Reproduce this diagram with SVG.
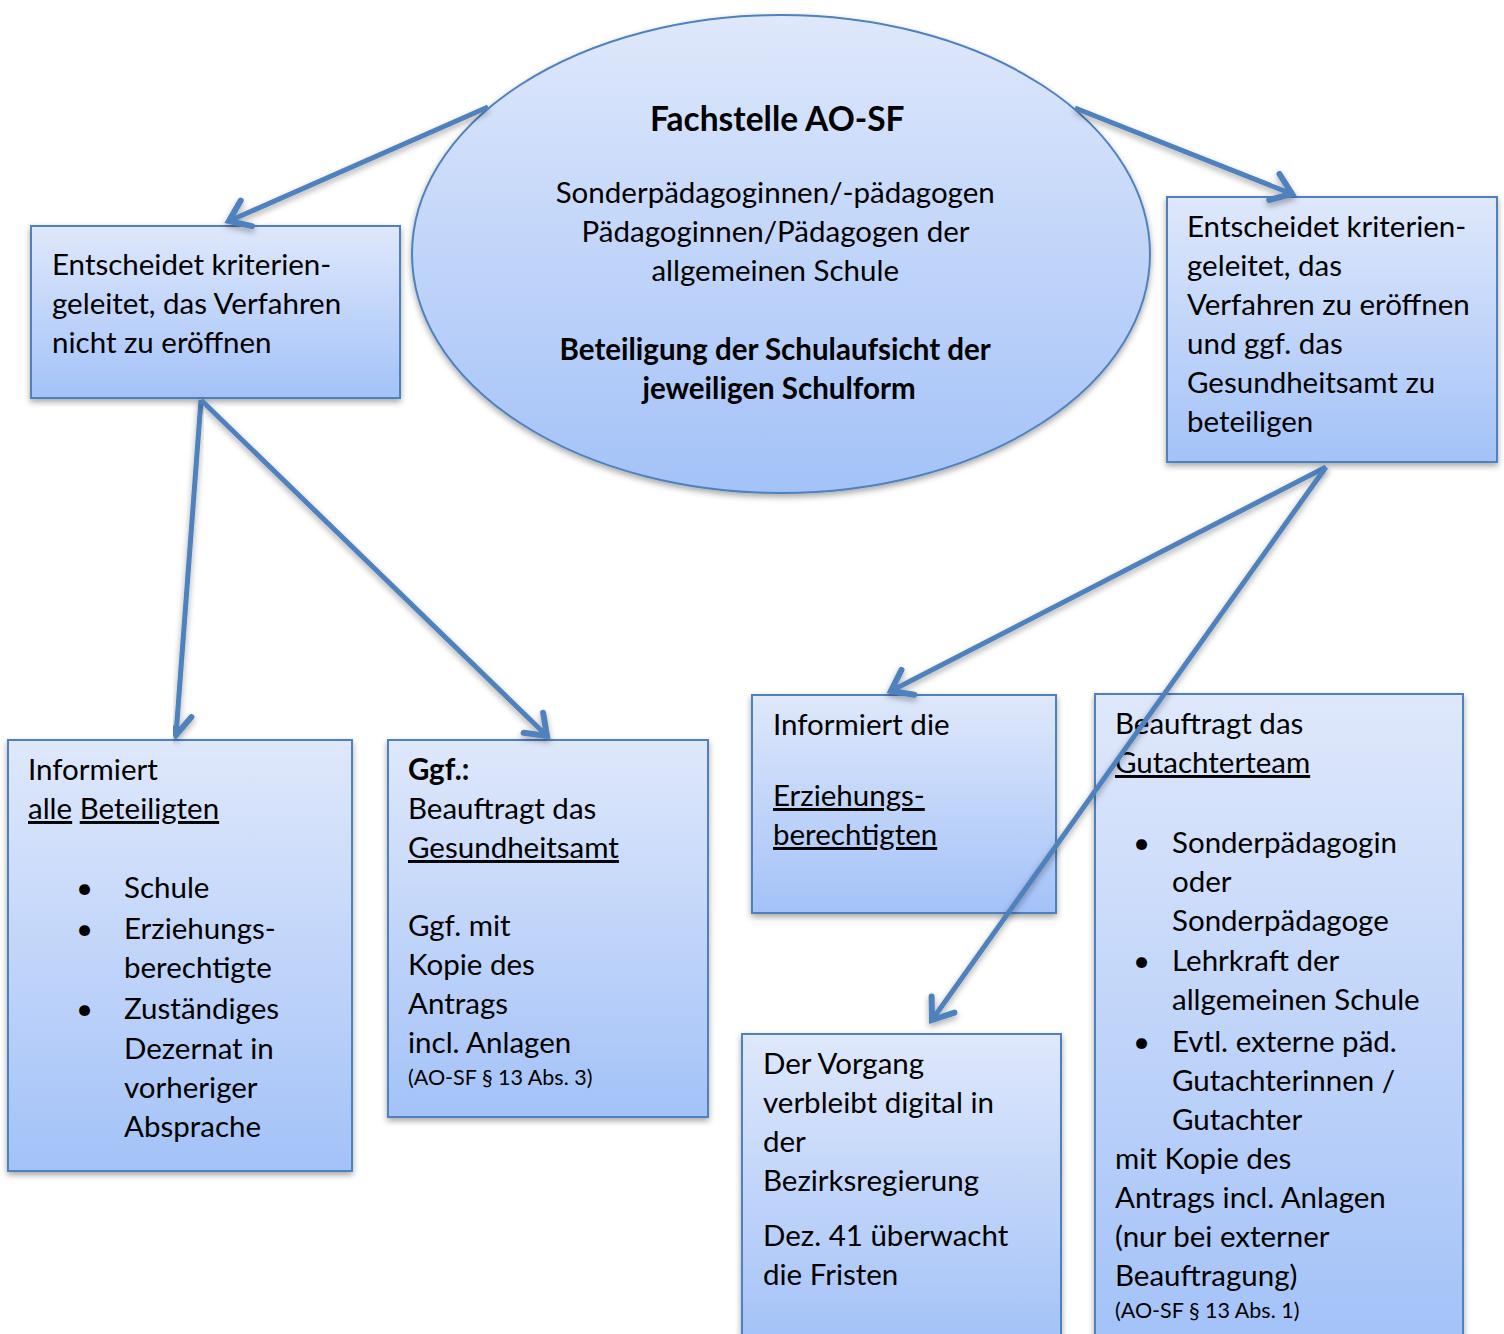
<svg xmlns="http://www.w3.org/2000/svg" width="1504" height="1334" viewBox="0 0 1504 1334">
<defs>
<linearGradient id="g" x1="0" y1="0" x2="0" y2="1">
<stop offset="0" stop-color="#dfe8fb"/>
<stop offset="1" stop-color="#a3c2f8"/>
</linearGradient>
<filter id="sh" x="-10%" y="-10%" width="120%" height="130%">
<feDropShadow dx="0" dy="3" stdDeviation="3" flood-color="#000" flood-opacity="0.35"/>
</filter>
<marker id="arr" markerUnits="userSpaceOnUse" viewBox="-30 -25 40 50" refX="0" refY="0" markerWidth="40" markerHeight="50" orient="auto" overflow="visible">
<path d="M -19 -14 L 0 0 L -19 14" fill="none" stroke="#4f81bd" stroke-width="6" stroke-linecap="round" stroke-linejoin="miter"/>
</marker>
</defs>
<style>
.box{fill:url(#g);stroke:#4f81bd;stroke-width:2;filter:url(#sh)}
.t{font-family:Lato,"Liberation Sans",sans-serif;font-size:29.5px;fill:#000}
.b{font-weight:bold}
.s{font-size:21.5px}
.u{text-decoration:underline}
.c{fill:none;stroke:#4f81bd;stroke-width:5;marker-end:url(#arr);filter:url(#sh)}
</style>
<rect width="1504" height="1334" fill="#fff"/>

<g id="fachstelle">
<ellipse cx="781" cy="254" rx="369" ry="239" class="box"/>
<text class="t" text-anchor="middle">
<tspan class="b" x="781" y="131" font-size="33.5">Fachstelle AO-SF</tspan>
<tspan x="779" y="203">Sonderpädagoginnen/-pädagogen</tspan>
<tspan x="779" y="242">Pädagoginnen/Pädagogen der</tspan>
<tspan x="779" y="281">allgemeinen Schule</tspan>
<tspan class="b" x="779" y="360">Beteiligung der Schulaufsicht der</tspan>
<tspan class="b" x="779" y="399">jeweiligen Schulform</tspan>
</text>
</g>

<g id="nicht-eroeffnen">
<rect x="31" y="226" width="369" height="172" class="box"/>
<text class="t">
<tspan x="52" y="275">Entscheidet kriterien-</tspan>
<tspan x="52" y="314">geleitet, das Verfahren</tspan>
<tspan x="52" y="353">nicht zu eröffnen</tspan>
</text>
</g>

<g id="eroeffnen">
<rect x="1167" y="197" width="330" height="265" class="box"/>
<text class="t">
<tspan x="1187" y="237">Entscheidet kriterien-</tspan>
<tspan x="1187" y="276">geleitet, das</tspan>
<tspan x="1187" y="315">Verfahren zu eröffnen</tspan>
<tspan x="1187" y="354">und ggf. das</tspan>
<tspan x="1187" y="393">Gesundheitsamt zu</tspan>
<tspan x="1187" y="432">beteiligen</tspan>
</text>
</g>

<g id="informiert-alle">
<rect x="8" y="740" width="344" height="431" class="box"/>
<text class="t">
<tspan x="28" y="780">Informiert</tspan>
<tspan x="28" y="819"><tspan class="u">alle</tspan> <tspan class="u">Beteiligten</tspan></tspan>
<tspan x="76" y="898">•</tspan><tspan x="124" y="898">Schule</tspan>
<tspan x="76" y="939">•</tspan><tspan x="124" y="939">Erziehungs-</tspan>
<tspan x="124" y="978">berechtigte</tspan>
<tspan x="76" y="1019">•</tspan><tspan x="124" y="1019">Zuständiges</tspan>
<tspan x="124" y="1059">Dezernat in</tspan>
<tspan x="124" y="1098">vorheriger</tspan>
<tspan x="124" y="1137">Absprache</tspan>
</text>
</g>

<g id="gesundheitsamt">
<rect x="388" y="740" width="320" height="377" class="box"/>
<text class="t">
<tspan class="b" x="408" y="780">Ggf.:</tspan>
<tspan x="408" y="819">Beauftragt das</tspan>
<tspan class="u" x="408" y="858">Gesundheitsamt</tspan>
<tspan x="408" y="936">Ggf. mit</tspan>
<tspan x="408" y="975">Kopie des</tspan>
<tspan x="408" y="1014">Antrags</tspan>
<tspan x="408" y="1053">incl. Anlagen</tspan>
<tspan class="s" x="408" y="1085">(AO-SF § 13 Abs. 3)</tspan>
</text>
</g>

<g id="informiert-erziehungsberechtigte">
<rect x="752" y="695" width="304" height="218" class="box"/>
<text class="t">
<tspan x="773" y="735">Informiert die</tspan>
<tspan class="u" x="773" y="806">Erziehungs-</tspan>
<tspan class="u" x="773" y="845">berechtigten</tspan>
</text>
</g>

<g id="vorgang">
<rect x="742" y="1034" width="319" height="310" class="box"/>
<text class="t">
<tspan x="763" y="1074">Der Vorgang</tspan>
<tspan x="763" y="1113">verbleibt digital in</tspan>
<tspan x="763" y="1152">der</tspan>
<tspan x="763" y="1191">Bezirksregierung</tspan>
<tspan x="763" y="1246">Dez. 41 überwacht</tspan>
<tspan x="763" y="1285">die Fristen</tspan>
</text>
</g>

<g id="gutachterteam">
<rect x="1095" y="694" width="368" height="650" class="box"/>
<text class="t">
<tspan x="1115" y="734">Beauftragt das</tspan>
<tspan class="u" x="1115" y="773">Gutachterteam</tspan>
<tspan x="1133" y="853">•</tspan><tspan x="1172" y="853">Sonderpädagogin</tspan>
<tspan x="1172" y="892">oder</tspan>
<tspan x="1172" y="931">Sonderpädagoge</tspan>
<tspan x="1133" y="971">•</tspan><tspan x="1172" y="971">Lehrkraft der</tspan>
<tspan x="1172" y="1010">allgemeinen Schule</tspan>
<tspan x="1133" y="1052">•</tspan><tspan x="1172" y="1052">Evtl. externe päd.</tspan>
<tspan x="1172" y="1091">Gutachterinnen /</tspan>
<tspan x="1172" y="1130">Gutachter</tspan>
<tspan x="1115" y="1169">mit Kopie des</tspan>
<tspan x="1115" y="1208">Antrags incl. Anlagen</tspan>
<tspan x="1115" y="1247">(nur bei externer</tspan>
<tspan x="1115" y="1286">Beauftragung)</tspan>
<tspan class="s" x="1115" y="1318">(AO-SF § 13 Abs. 1)</tspan>
</text>
</g>

<g id="connectors">
<line class="c" x1="488" y1="107" x2="229" y2="221"/>
<line class="c" x1="1075" y1="108" x2="1292" y2="194"/>
<line class="c" x1="201" y1="400" x2="176" y2="735"/>
<line class="c" x1="201" y1="400" x2="547" y2="736"/>
<line class="c" x1="1326" y1="467" x2="891" y2="691"/>
<line class="c" x1="1326" y1="467" x2="1326" y2="689"/>
<line class="c" x1="1326" y1="467" x2="932" y2="1020"/>
</g>
</svg>
